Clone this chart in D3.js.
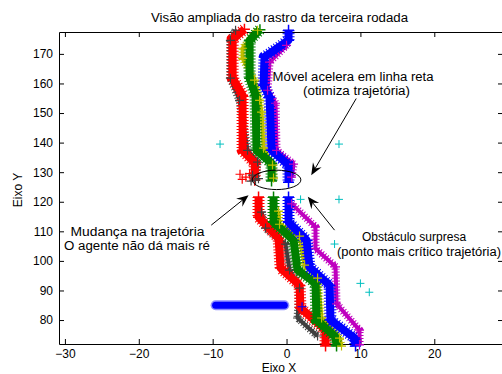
<!DOCTYPE html>
<html>
<head>
<meta charset="utf-8">
<script src="https://cdn.jsdelivr.net/npm/d3@7"></script>
<style>
  body { margin: 0; background: #fff; }
  svg { display: block; font-family: "Liberation Sans", Arial, sans-serif; }
</style>
</head>
<body>
<div id="chart"></div>
<script>
// trails, [x, y] in axis units
const redUpper = [[-5.7,178.3],[-7.3,175.0],[-7.3,161.8],[-5.95,156.0],[-5.95,137.4],[-4.3,133.0],[-4.3,127.3]];
const greenUpper = [[-3.6,178.2],[-5.0,174.6],[-5.0,161.8],[-4.2,156.0],[-4.06,137.4],[-2.03,133.0],[-2.03,127.0]];
const blueUpper = [[0.27,178.0],[0.27,174.6],[-2.98,168.9],[-3.11,159.4],[-2.3,155.4],[-2.03,137.4],[0.27,132.4],[0.27,126.6]];
const magentaUpper = [[0.0,172.9],[-2.3,167.2],[-2.57,157.7],[-1.49,153.3],[-1.35,137.4],[0.95,132.7],[0.68,128.3]];
const grayUpper = [[-6.9,178.0],[-7.6,174.6],[-7.6,161.8],[-6.36,154.3],[-5.28,137.4],[-3.92,133.4],[-4.2,127.3]];
const yellowUpper = [[-3.92,178.0],[-5.95,171.9],[-5.95,168.5],[-4.33,161.1],[-3.65,154.3],[-3.38,150.3],[-3.11,138.1],[-1.9,132.4],[-1.76,128.0]];

const redLower = [[-3.79,121.6],[-3.79,114.8],[-1.08,107.7],[-0.81,97.6],[1.76,91.8],[1.89,84.1],[5.28,76.6],[5.28,71.2]];
const greenLower = [[-1.76,121.6],[-1.76,113.1],[0.95,107.0],[1.49,96.9],[3.92,92.5],[4.06,80.0],[6.63,74.3],[6.77,71.2]];
const blueLower = [[0.27,121.6],[0.27,113.1],[2.71,107.0],[3.11,97.9],[5.82,91.8],[5.95,80.0],[9.2,73.9],[9.34,71.2]];
const magentaLower = [[0.68,119.3],[3.92,111.5],[3.92,104.1],[6.63,98.0],[6.77,85.5],[9.88,76.6],[9.88,71.6]];
const grayLower = [[-3.38,116.5],[-2.84,111.1],[-0.14,105.7],[0.41,96.9],[1.76,90.8],[1.49,80.7],[4.2,74.6]];
const yellowLower = [[-1.08,116.8],[-0.95,112.4],[1.76,108.4],[2.44,98.6],[4.2,94.2],[4.74,80.7],[7.17,73.9],[7.44,71.2]];

// blue agent parked on the left, plus loose crosses
const blueBar = [[-9.6,85.0],[-0.3,85.0]];
const blueLoose = [[2.1,84.5]];
const redLoose = [[-6.3,129.3],[-5.5,128.3],[-6.0,127.6],[-5.0,129.5]];
const grayLoose = [[-4.8,127.0],[-3.8,127.8],[-4.6,129.0]];

// cyan crosses (obstacles)
const obstacles = [[-9.0,139.5],[7.1,139.5],[1.9,120.8],[7.1,120.8],[6.5,105.7],[10.0,92.4],[11.2,89.4]];

const xTicks = [-30, -20, -10, 0, 10, 20];
const yTicks = [80, 90, 100, 110, 120, 130, 140, 150, 160, 170];

const width = 502, height = 374;
const margin = { top: 32, right: -1, bottom: 30, left: 59 };

const svg = d3.select("#chart").append("svg")
  .attr("width", width)
  .attr("height", height);

const x = d3.scaleLinear().domain([-30.8, 29.3]).range([margin.left, width - margin.right]);
const y = d3.scaleLinear().domain([71.9, 177.4]).range([height - margin.bottom, margin.top]);

// axes, ticks pointing inwards like matlab
const styleAxis = g => {
  g.attr("font-family", null).attr("font-size", null);
  g.select(".domain").attr("stroke", "#000");
  g.selectAll(".tick line").attr("stroke", "#000");
  g.selectAll(".tick text").attr("fill", "#000").style("font-size", "12px");
};

svg.append("g")
  .attr("transform", `translate(0,${y.range()[0]})`)
  .call(d3.axisBottom(x).tickValues(xTicks).tickSizeInner(-5).tickSizeOuter(0).tickPadding(5.5))
  .call(styleAxis);
svg.append("g")
  .attr("transform", `translate(0,${y.range()[1]})`)
  .call(d3.axisTop(x).tickValues(xTicks).tickSizeInner(-5).tickSizeOuter(0).tickFormat(""))
  .call(styleAxis);
svg.append("g")
  .attr("transform", `translate(${x.range()[0]},0)`)
  .call(d3.axisLeft(y).tickValues(yTicks).tickSizeInner(-5).tickSizeOuter(0).tickPadding(6))
  .call(styleAxis);
svg.append("g")
  .attr("transform", `translate(${x.range()[1]},0)`)
  .call(d3.axisRight(y).tickValues(yTicks).tickSizeInner(-5).tickSizeOuter(0).tickFormat(""))
  .call(styleAxis);

const line = d3.line().x(d => x(d[0])).y(d => y(d[1]));
const plus = r => `M${-r},0H${r}M0,${-r}V${r}`;

// a trail = solid band + comb edge that mimics stacked '+' markers
function drawBand(pts, color, w) {
  svg.append("path")
    .attr("d", line(pts))
    .attr("fill", "none")
    .attr("stroke", color)
    .attr("stroke-width", w)
    .attr("stroke-linejoin", "round");
  svg.append("path")
    .attr("d", line(pts))
    .attr("fill", "none")
    .attr("stroke", color)
    .attr("stroke-width", w + 4)
    .attr("stroke-dasharray", "1,2")
    .attr("stroke-linejoin", "round");
}

function drawMarks(pts, color, r, sw) {
  svg.append("g")
    .selectAll("path")
    .data(pts)
    .enter()
    .append("path")
    .attr("transform", d => `translate(${x(d[0])},${y(d[1])})`)
    .attr("d", plus(r))
    .attr("fill", "none")
    .attr("stroke", color)
    .attr("stroke-width", sw);
}

const C = { r: "#ff0000", g: "#008000", b: "#0000ff", m: "#bf00bf", k: "#404040", y: "#bfbf00", c: "#00bfbf" };

// thin trails underneath
[[magentaUpper, C.m], [magentaLower, C.m], [grayUpper, C.k], [grayLower, C.k],
 [yellowUpper, C.y], [yellowLower, C.y]].forEach(([pts, c]) => drawBand(pts, c, 4));

// main trails
[[redUpper, C.r], [redLower, C.r], [greenUpper, C.g], [greenLower, C.g],
 [blueUpper, C.b], [blueLower, C.b]].forEach(([pts, c]) => {
  drawBand(pts, c, 8);
  drawMarks(pts, c, 5.5, 1.5);
});

// parked agent: smooth bar with a pale fringe
svg.append("path")
  .attr("d", line(blueBar))
  .attr("stroke", "#9090ff")
  .attr("stroke-width", 10)
  .attr("stroke-linecap", "round");
svg.append("path")
  .attr("d", line(blueBar))
  .attr("stroke", C.b)
  .attr("stroke-width", 7)
  .attr("stroke-linecap", "round");

// crosses of the thin trails on top
[[magentaUpper, C.m], [magentaLower, C.m], [grayUpper, C.k], [grayLower, C.k],
 [yellowUpper, C.y], [yellowLower, C.y]].forEach(([pts, c]) => drawMarks(pts, c, 4.5, 1.2));

drawMarks(redLoose, C.r, 4.5, 1.2);
drawMarks(grayLoose, C.k, 4.5, 1.2);
drawMarks(blueLoose, C.b, 4.5, 1.2);
drawMarks(obstacles, C.c, 4, 1);

// annotations
svg.append("ellipse")
  .attr("cx", x(-1.35)).attr("cy", y(127.4))
  .attr("rx", x(3.29) - x(0)).attr("ry", y(0) - y(3.28))
  .attr("fill", "none")
  .attr("stroke", "#000")
  .attr("stroke-width", 1);

const arrows = [
  { from: [9.43, 154.9], to: [3.34, 129.0] },
  { from: [-10.19, 112.1], to: [-5.14, 122.2] },
  { from: [6.5, 110.4], to: [2.88, 121.7] }
];
arrows.forEach(a => {
  const x0 = x(a.from[0]), y0 = y(a.from[1]), x1 = x(a.to[0]), y1 = y(a.to[1]);
  const len = Math.hypot(x1 - x0, y1 - y0);
  const ux = (x1 - x0) / len, uy = (y1 - y0) / len;
  const nx = -uy, ny = ux;
  const L = 12, hw = 5;
  svg.append("line")
    .attr("x1", x0).attr("y1", y0)
    .attr("x2", x1 - ux * 6).attr("y2", y1 - uy * 6)
    .attr("stroke", "#000").attr("stroke-width", 1);
  svg.append("path")
    .attr("d", `M${x1},${y1}L${x1 - ux * L + nx * hw},${y1 - uy * L + ny * hw}` +
      `L${x1 - ux * L * 0.65},${y1 - uy * L * 0.65}` +
      `L${x1 - ux * L - nx * hw},${y1 - uy * L - ny * hw}Z`)
    .attr("fill", "#000");
});

// the reference font runs wider than Arial, so most widths are pinned
const notes = [
  { t: "Móvel acelera em linha reta", px: 353, py: 80.5, anchor: "middle", w: 161 },
  { t: "(otimiza trajetória)", px: 356.5, py: 94.5, anchor: "middle", w: 107 },
  { t: "Mudança na trajetória", px: 137.5, py: 235.5, anchor: "middle", w: 134 },
  { t: "O agente não dá mais ré", px: 137, py: 249.5, anchor: "middle", w: 146 },
  { t: "Obstáculo surpresa", px: 362, py: 241, anchor: "start", w: null },
  { t: "(ponto mais crítico trajetória)", px: 419, py: 255.5, anchor: "middle", w: 164 },
  { t: "Visão ampliada do rastro da terceira rodada", px: 279.5, py: 22, anchor: "middle", w: 257 }
];
svg.append("g")
  .selectAll("text")
  .data(notes)
  .enter()
  .append("text")
  .attr("x", d => d.px)
  .attr("y", d => d.py)
  .attr("text-anchor", d => d.anchor)
  .attr("textLength", d => d.w)
  .attr("lengthAdjust", d => d.w ? "spacingAndGlyphs" : null)
  .style("font-size", "12px")
  .text(d => d.t);

// axis labels
svg.append("text")
  .attr("x", 279)
  .attr("y", 371.5)
  .attr("text-anchor", "middle")
  .style("font-size", "12px")
  .text("Eixo X");

svg.append("text")
  .attr("transform", "translate(22,190) rotate(-90)")
  .attr("text-anchor", "middle")
  .style("font-size", "12px")
  .text("Eixo Y");
</script>
</body>
</html>
